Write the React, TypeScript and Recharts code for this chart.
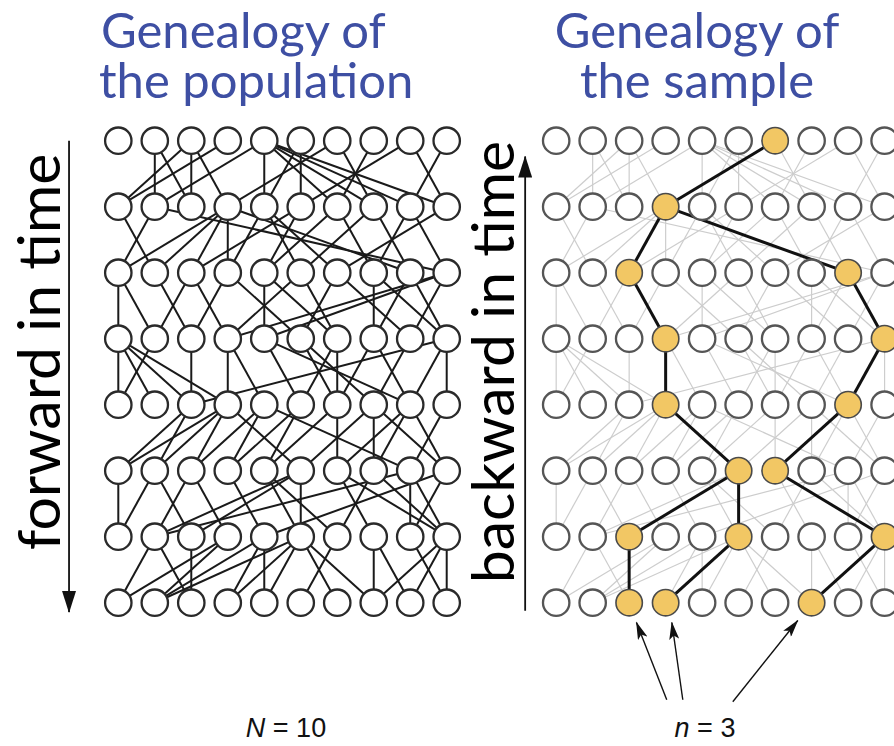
import { ComposedChart, Scatter, XAxis, YAxis } from 'recharts';

const W = 894;
const H = 746;

const columns = [0, 1, 2, 3, 4, 5, 6, 7, 8, 9];
const generations = [0, 1, 2, 3, 4, 5, 6, 7];
const sampleOffset = 12; // the right panel sits 12 columns to the right

// [parent column, child column] for each step down one generation
const links1 = [[2, 0], [3, 0], [1, 1], [4, 1], [1, 2], [2, 2], [2, 3], [6, 3], [4, 4], [5, 4], [5, 5], [8, 5], [4, 6], [7, 6], [6, 7], [4, 7], [4, 8], [9, 8], [8, 9], [4, 9]];
const links2 = [[3, 0], [1, 0], [0, 1], [3, 1], [3, 2], [5, 2], [3, 3], [4, 3], [5, 4], [6, 4], [4, 5], [7, 5], [4, 6], [9, 6], [8, 7], [6, 7], [3, 8], [7, 8], [8, 9], [1, 9]];
const links3 = [[0, 0], [0, 1], [2, 1], [1, 2], [2, 3], [3, 2], [3, 5], [4, 4], [4, 6], [5, 6], [6, 5], [9, 4], [9, 3], [7, 7], [7, 9], [8, 9], [8, 7], [9, 8], [6, 8], [5, 3]];
const links4 = [[0, 0], [0, 1], [0, 2], [0, 3], [1, 0], [2, 2], [3, 3], [3, 4], [9, 2], [4, 5], [4, 8], [5, 6], [6, 6], [6, 5], [7, 6], [7, 8], [9, 9], [9, 8], [8, 7], [5, 7]];
const links5 = [[2, 0], [3, 0], [2, 1], [3, 1], [4, 2], [3, 2], [4, 3], [5, 3], [3, 5], [6, 4], [5, 4], [7, 5], [8, 6], [7, 7], [8, 7], [9, 8], [7, 9], [8, 9], [6, 6], [4, 8]];
const links6 = [[0, 0], [1, 0], [1, 2], [2, 1], [2, 3], [3, 4], [4, 5], [5, 2], [5, 5], [5, 1], [8, 1], [9, 4], [6, 7], [6, 9], [7, 6], [7, 9], [8, 8], [8, 9], [9, 8], [4, 6]];
const links7 = [[1, 0], [1, 2], [2, 2], [3, 0], [4, 1], [5, 1], [4, 4], [4, 3], [5, 3], [5, 4], [5, 6], [5, 7], [7, 7], [6, 5], [9, 9], [9, 8], [9, 7], [8, 9], [7, 8], [3, 1]];
const allLinks = [links1, links2, links3, links4, links5, links6, links7];

// sampled individuals per generation and their lineage: [child generation, child col, parent col]
const sampleByGeneration = [[6], [3], [2, 8], [3, 9], [3, 8], [5, 6], [2, 5, 9], [2, 3, 7]];
const sampleLinks = [[1, 3, 6], [2, 2, 3], [2, 8, 3], [3, 3, 2], [3, 9, 8], [4, 3, 3], [4, 8, 9], [5, 5, 3], [5, 6, 8], [6, 2, 5], [6, 5, 5], [6, 9, 6], [7, 2, 2], [7, 3, 5], [7, 7, 9]];

// arrows, in column / generation units
const forwardArrow = [{ x: -1.35, y: 0.0 }, { x: -1.35, y: 7.14 }];
const backwardArrow = [{ x: 11.15, y: 7.12 }, { x: 11.15, y: 0.24 }];
const sampleArrows = [
  [{ x: 15.03, y: 8.47 }, { x: 14.2, y: 7.3 }],
  [{ x: 15.47, y: 8.47 }, { x: 15.17, y: 7.3 }],
  [{ x: 16.84, y: 8.5 }, { x: 18.62, y: 7.27 }],
];

const toSegments = (offset: number) =>
  allLinks.flatMap((gap, g) =>
    gap.map(([p, c]) => [
      { x: p + offset, y: g },
      { x: c + offset, y: g + 1 },
    ])
  );

const popSegments = toSegments(0);
const greySegments = toSegments(sampleOffset);
const lineageSegments = sampleLinks.map(([g, c, p]) => [
  { x: p + sampleOffset, y: g - 1 },
  { x: c + sampleOffset, y: g },
]);

const popNodes = generations.flatMap((g) => columns.map((c) => ({ x: c, y: g })));
const sampleNodes = generations.flatMap((g) =>
  columns.map((c) => ({ x: c + sampleOffset, y: g, hit: sampleByGeneration[g].includes(c) }))
);

const noDot = () => <g />;

const Node = (props: any) => {
  const { cx, cy, payload, stroke } = props;
  const hit = payload && payload.hit;
  return (
    <circle
      cx={cx}
      cy={cy}
      r={13.2}
      fill={hit ? '#F2C764' : '#fff'}
      stroke={hit ? '#4a4a4a' : stroke}
      strokeWidth={hit ? 1.6 : 2.3}
    />
  );
};

const TITLE = { color: '#3E4FA3', fontFamily: 'Lato, sans-serif', fontSize: 49, lineHeight: 1, position: 'absolute' as const, whiteSpace: 'nowrap' as const };
const SIDE = { position: 'absolute' as const, transform: 'translate(-50%, -50%) rotate(-90deg)', fontFamily: 'Lato, sans-serif', fontSize: 59, lineHeight: 1, whiteSpace: 'nowrap' as const, color: '#000' };
const COUNT = { position: 'absolute' as const, width: 200, top: 713, textAlign: 'center' as const, fontFamily: '"Liberation Sans", Arial, sans-serif', fontSize: 27, color: '#111' };

export default function App() {
  return (
    <div style={{ position: 'absolute', left: 0, top: 0, width: W, height: H, background: '#fff', overflow: 'hidden' }}>
      <svg width={0} height={0} style={{ position: 'absolute' }}>
        <defs>
          <marker id="bigHead" viewBox="0 0 22 14" refX="21" refY="7" markerWidth="22" markerHeight="14" markerUnits="userSpaceOnUse" orient="auto">
            <path d="M0,0 L22,7 L0,14 z" fill="#111" />
          </marker>
          <marker id="smallHead" viewBox="0 0 18 10" refX="17" refY="5" markerWidth="18" markerHeight="10" markerUnits="userSpaceOnUse" orient="auto">
            <path d="M0,0 L18,5 L0,10 L4,5 z" fill="#111" />
          </marker>
        </defs>
      </svg>

      <ComposedChart width={W} height={H} margin={{ top: 0, right: 0, bottom: 0, left: 0 }}>
        <XAxis type="number" dataKey="x" domain={[-3.242, 21.258]} allowDataOverflow hide />
        <YAxis type="number" dataKey="y" domain={[-2.132, 9.171]} allowDataOverflow reversed hide />

        {popSegments.map((seg, i) => (
          <Scatter key={'p' + i} data={seg} line={{ stroke: '#1a1a1a', strokeWidth: 2 }} shape={noDot} isAnimationActive={false} />
        ))}
        {greySegments.map((seg, i) => (
          <Scatter key={'g' + i} data={seg} line={{ stroke: '#cdcdcd', strokeWidth: 1.2 }} shape={noDot} isAnimationActive={false} />
        ))}
        {lineageSegments.map((seg, i) => (
          <Scatter key={'l' + i} data={seg} line={{ stroke: '#111', strokeWidth: 3 }} shape={noDot} isAnimationActive={false} />
        ))}

        <Scatter data={popNodes} shape={<Node />} stroke="#2a2a2a" isAnimationActive={false} />
        <Scatter data={sampleNodes} shape={<Node />} stroke="#555" isAnimationActive={false} />

        <Scatter data={forwardArrow} line={{ stroke: '#111', strokeWidth: 1.8, markerEnd: 'url(#bigHead)' }} shape={noDot} isAnimationActive={false} />
        <Scatter data={backwardArrow} line={{ stroke: '#111', strokeWidth: 1.8, markerEnd: 'url(#bigHead)' }} shape={noDot} isAnimationActive={false} />
        {sampleArrows.map((seg, i) => (
          <Scatter key={'a' + i} data={seg} line={{ stroke: '#111', strokeWidth: 1.4, markerEnd: 'url(#smallHead)' }} shape={noDot} isAnimationActive={false} />
        ))}
      </ComposedChart>

      <div style={{ ...TITLE, left: 101, top: 5 }}>Genealogy of</div>
      <div style={{ ...TITLE, left: 99, top: 55 }}>the population</div>
      <div style={{ ...TITLE, left: 497, width: 400, textAlign: 'center', top: 5 }}>Genealogy of</div>
      <div style={{ ...TITLE, left: 497, width: 400, textAlign: 'center', top: 55 }}>the sample</div>

      <div style={{ ...SIDE, left: 37, top: 352 }}>forward in time</div>
      <div style={{ ...SIDE, left: 491, top: 362 }}>backward in time</div>

      <div style={{ ...COUNT, left: 186 }}>
        <i>N</i> = 10
      </div>
      <div style={{ ...COUNT, left: 605 }}>
        <i>n</i> = 3
      </div>
    </div>
  );
}
